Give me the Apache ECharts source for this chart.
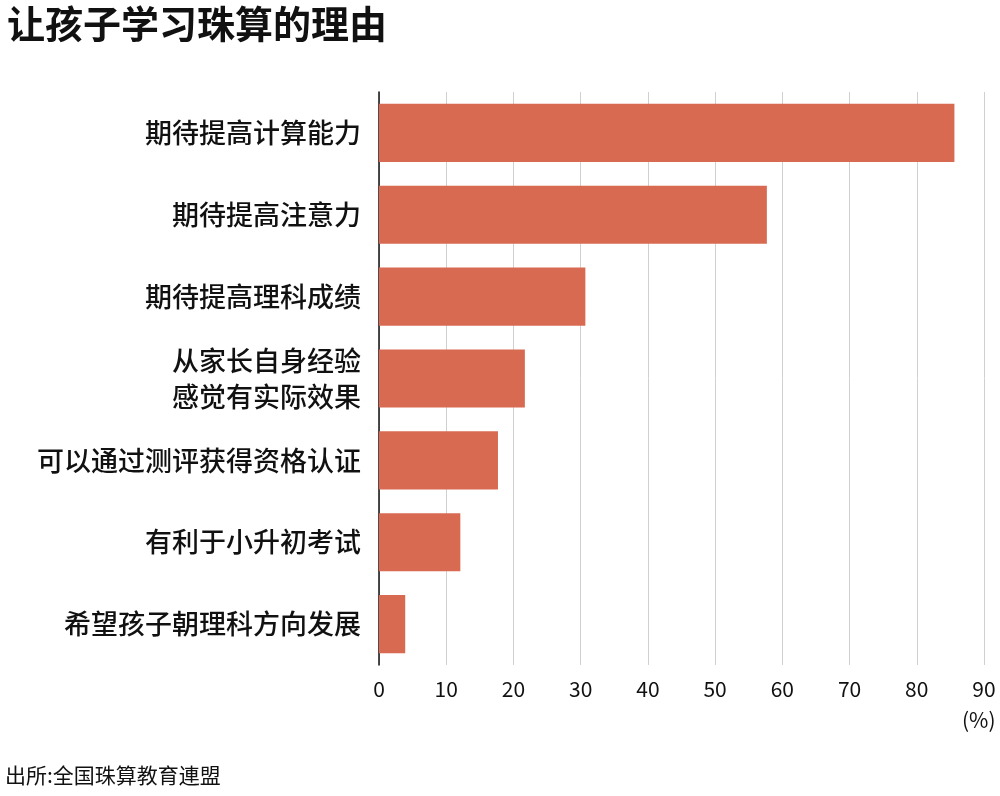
<!DOCTYPE html>
<html><head><meta charset="utf-8">
<script src="https://cdn.jsdelivr.net/npm/echarts@6/dist/echarts.min.js"></script>
<style>html,body{margin:0;padding:0;background:#fff}#c{width:1000px;height:796px}</style>
</head><body><div id="c"></div>
<script>
const categories = ["期待提高计算能力","期待提高注意力","期待提高理科成绩","从家长自身经验\n感觉有实际效果","可以通过测评获得资格认证","有利于小升初考试","希望孩子朝理科方向发展"];
const values = [85.6, 57.7, 30.7, 21.7, 17.7, 12.1, 3.9];
const font = '"Noto Sans CJK SC", sans-serif';
const chart = echarts.init(document.getElementById('c'));
chart.setOption({
  animation:false,
  title:[
    {text:'让孩子学习珠算的理由',left:2,top:0,textStyle:{fontFamily:font,fontSize:38,fontWeight:'bold',color:'#111'}},
    {text:'出所:全国珠算教育連盟',left:0,top:760,textStyle:{fontFamily:font,fontSize:21,fontWeight:'normal',color:'#111'}},
    {text:'(%)',left:957,top:705,textStyle:{fontFamily:font,fontSize:21,fontWeight:'normal',color:'#111'}}
  ],
  grid:{left:379,right:16,top:92,bottom:131,containLabel:false},
  xAxis:{type:'value',min:0,max:90,interval:10,
    axisLine:{show:false},axisTick:{show:false},
    axisLabel:{fontFamily:font,fontSize:21,color:'#111',margin:14},
    splitLine:{lineStyle:{color:'#d0d0d0',width:1}}},
  yAxis:{type:'category',inverse:true,data:categories,
    axisLine:{lineStyle:{color:'#111',width:1.5}},axisTick:{show:false},
    axisLabel:{fontFamily:font,fontSize:27,fontWeight:500,color:'#111',margin:18,lineHeight:36,align:'right'}},
  series:[{type:'bar',data:values,barWidth:'71%',itemStyle:{color:'#d96a52'}}]
});
</script></body></html>
